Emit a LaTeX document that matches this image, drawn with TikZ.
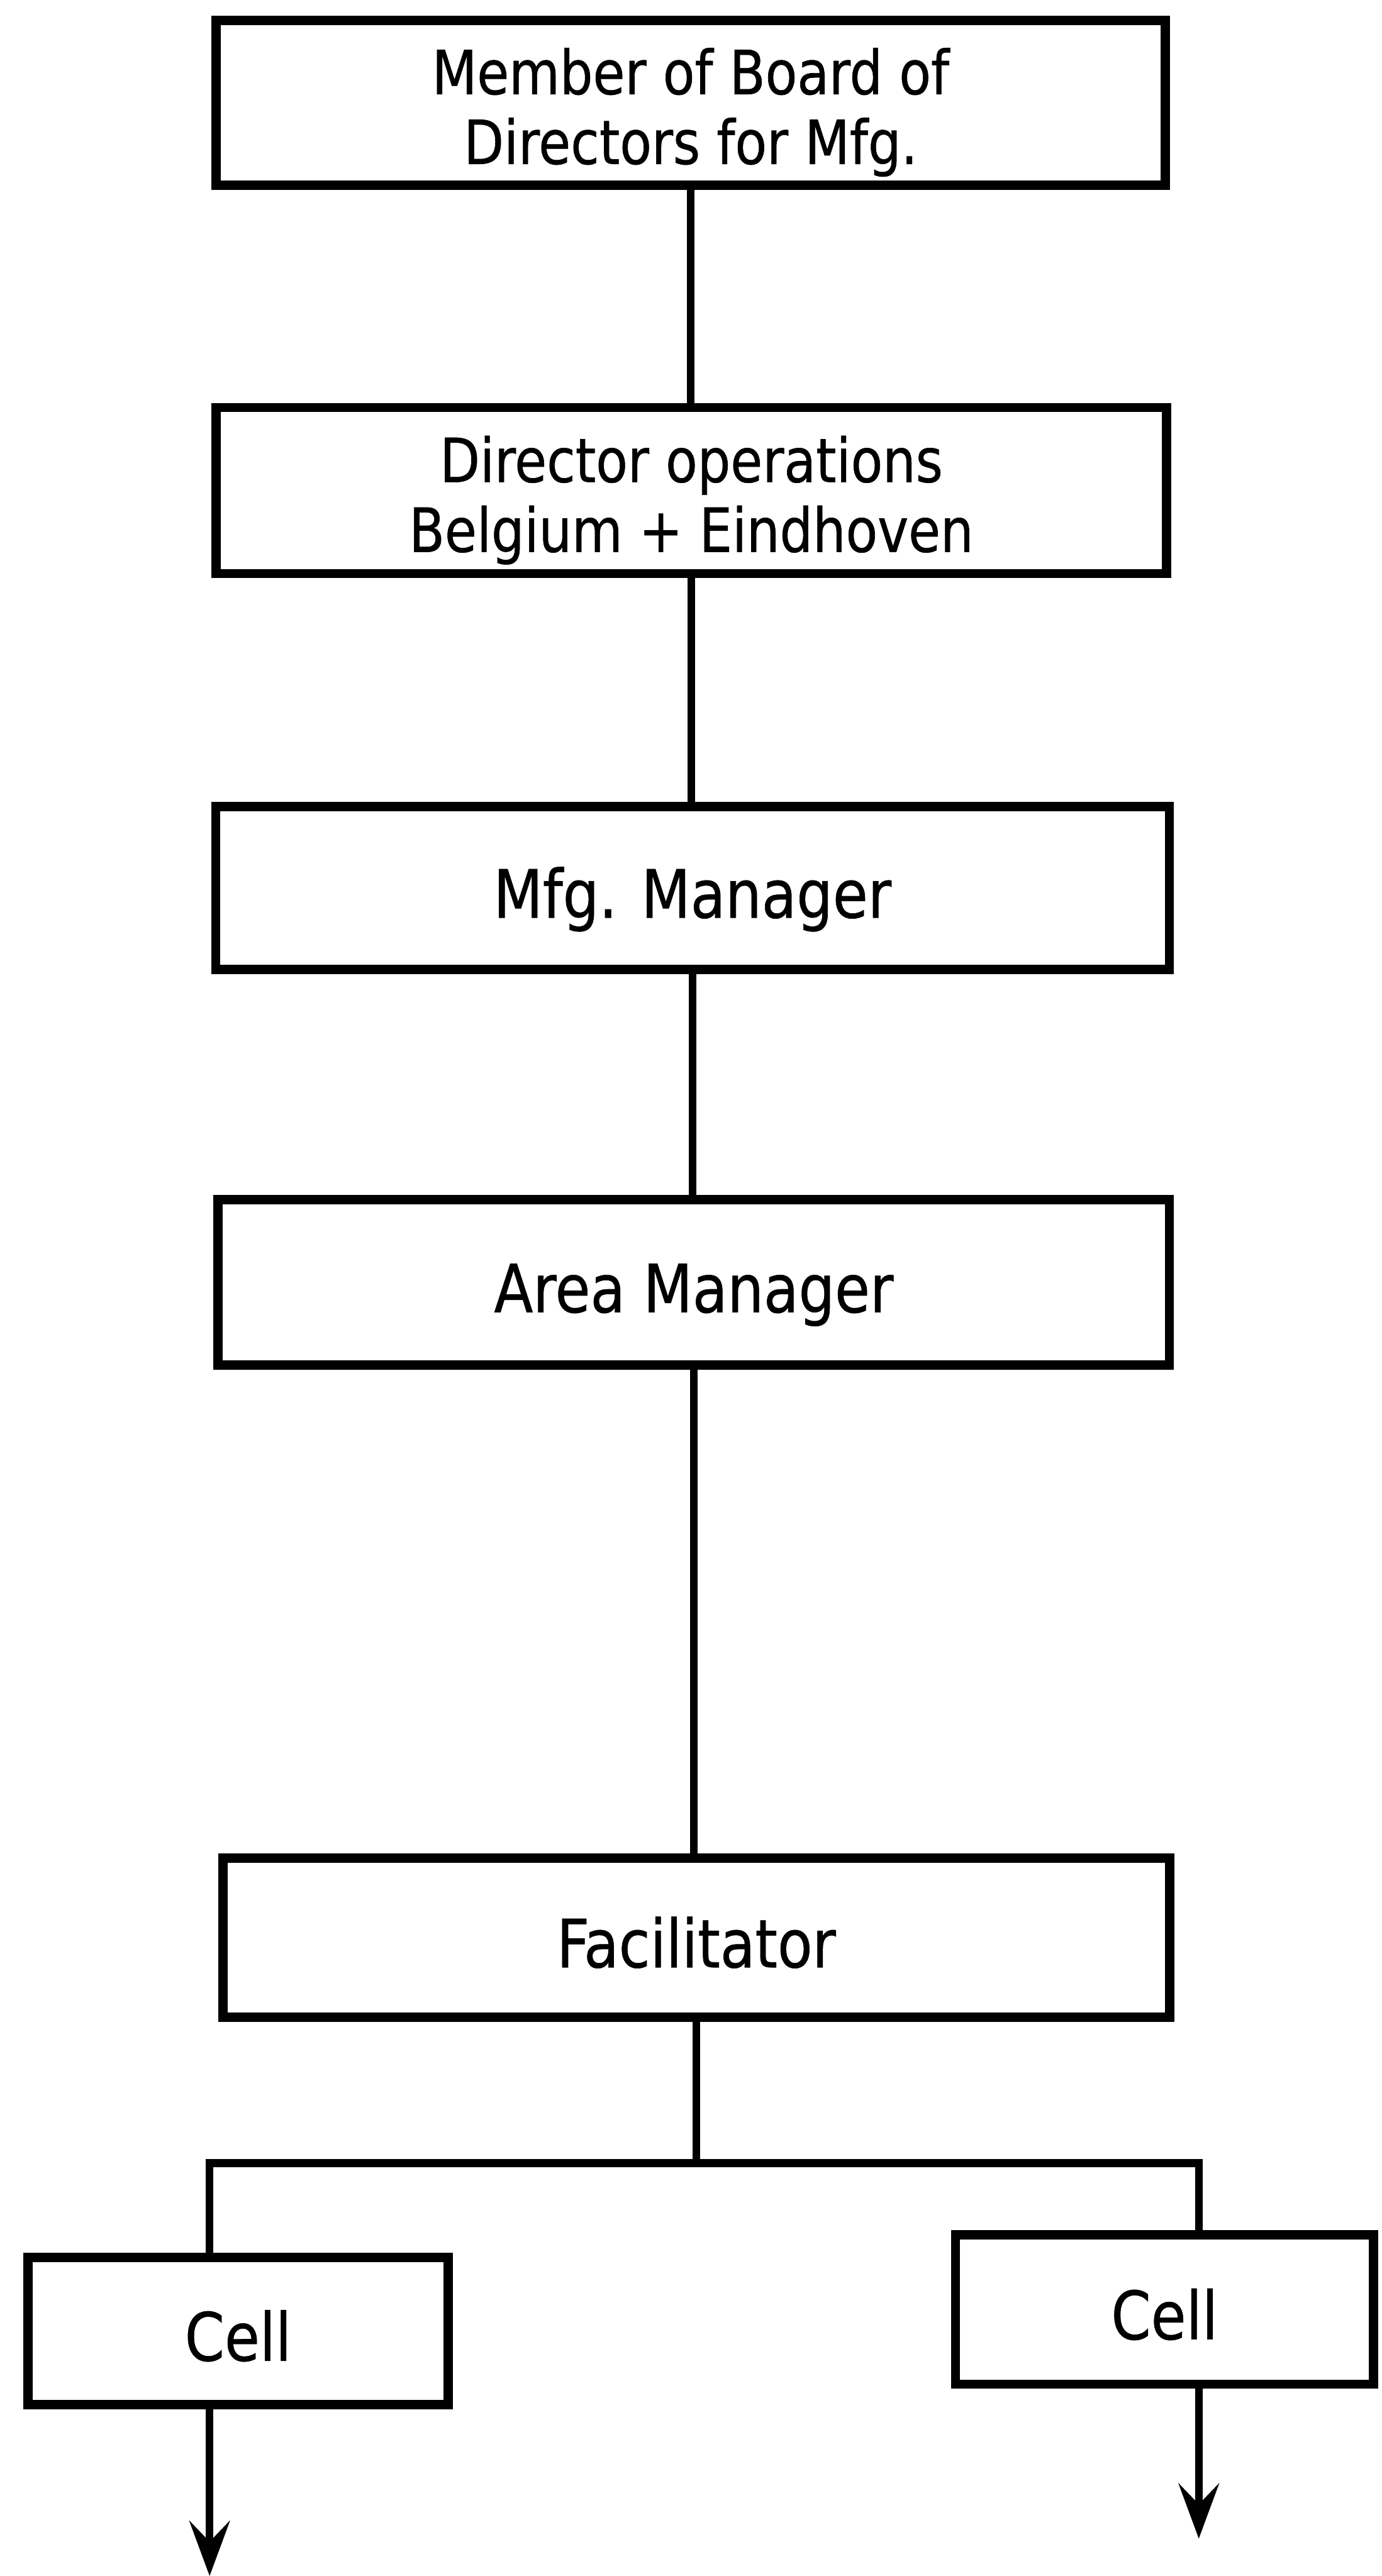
\documentclass[tikz,border=0pt]{standalone}
\usepackage{fontspec}
\setmainfont[FakeStretch=0.95, FakeBold=0.6]{DejaVu Sans Condensed}
\usetikzlibrary{arrows.meta}
\begin{document}
\begin{tikzpicture}[
  orgbox/.style={draw, line width=4.3pt, rectangle, align=center, inner sep=0pt},
  oneline/.style={orgbox, font=\fontsize{31}{33}\selectfont,
                  text height=27.7pt, text depth=0pt},
  twoline/.style={orgbox, font=\fontsize{28.3}{32.4}\selectfont,
                  text height=57pt, text depth=0pt},
  link/.style={line width=3.6pt},
  down/.style={line width=3.6pt, -{Stealth[length=0.9cm, width=0.66cm, inset=0.34cm]}}
]
\useasboundingbox (0,0) rectangle (22.54,-42.04);

% management chain
\node[twoline, minimum width=15.49cm, minimum height=2.69cm] (board) at (11.27,-1.675)
  {Member of Board of\\Directors for Mfg.};
\node[twoline, minimum width=15.51cm, minimum height=2.71cm] (dirops) at (11.28,-8.005)
  {Director operations\\Belgium + Eindhoven};
\node[oneline, minimum width=15.56cm, minimum height=2.66cm] (mfg) at (11.30,-14.49)
  {Mfg. Manager};
\node[oneline, minimum width=15.52cm, minimum height=2.70cm] (area) at (11.32,-20.93)
  {Area Manager};
\node[oneline, minimum width=15.45cm, minimum height=2.60cm] (fac) at (11.36,-31.62)
  {Facilitator};

% cells
\node[oneline, minimum width=6.85cm, minimum height=2.40cm] (cellL) at (3.885,-38.04) {Cell};
\node[oneline, minimum width=6.82cm, minimum height=2.44cm] (cellR) at (19.00,-37.69) {Cell};

% branch points and free arrow ends
\coordinate (jl) at (3.42,-35.30);
\coordinate (jr) at (19.56,-35.30);
\coordinate (endL) at (3.42,-42.04);
\coordinate (endR) at (19.56,-41.43);

% vertical links
\draw[link] (board.south) -- (board.south |- dirops.north);
\draw[link] (dirops.south) -- (dirops.south |- mfg.north);
\draw[link] (mfg.south) -- (mfg.south |- area.north);
\draw[link] (area.south) -- (area.south |- fac.north);
\draw[link] (fac.south) -- (fac.south |- jl);

% branch to the cells
\draw[link] (jl |- cellL.north) -- (jl) -- (jr) -- (jr |- cellR.north);

% outgoing arrows
\draw[down] (jl |- cellL.south) -- (endL);
\draw[down] (jr |- cellR.south) -- (endR);
\end{tikzpicture}
\end{document}
